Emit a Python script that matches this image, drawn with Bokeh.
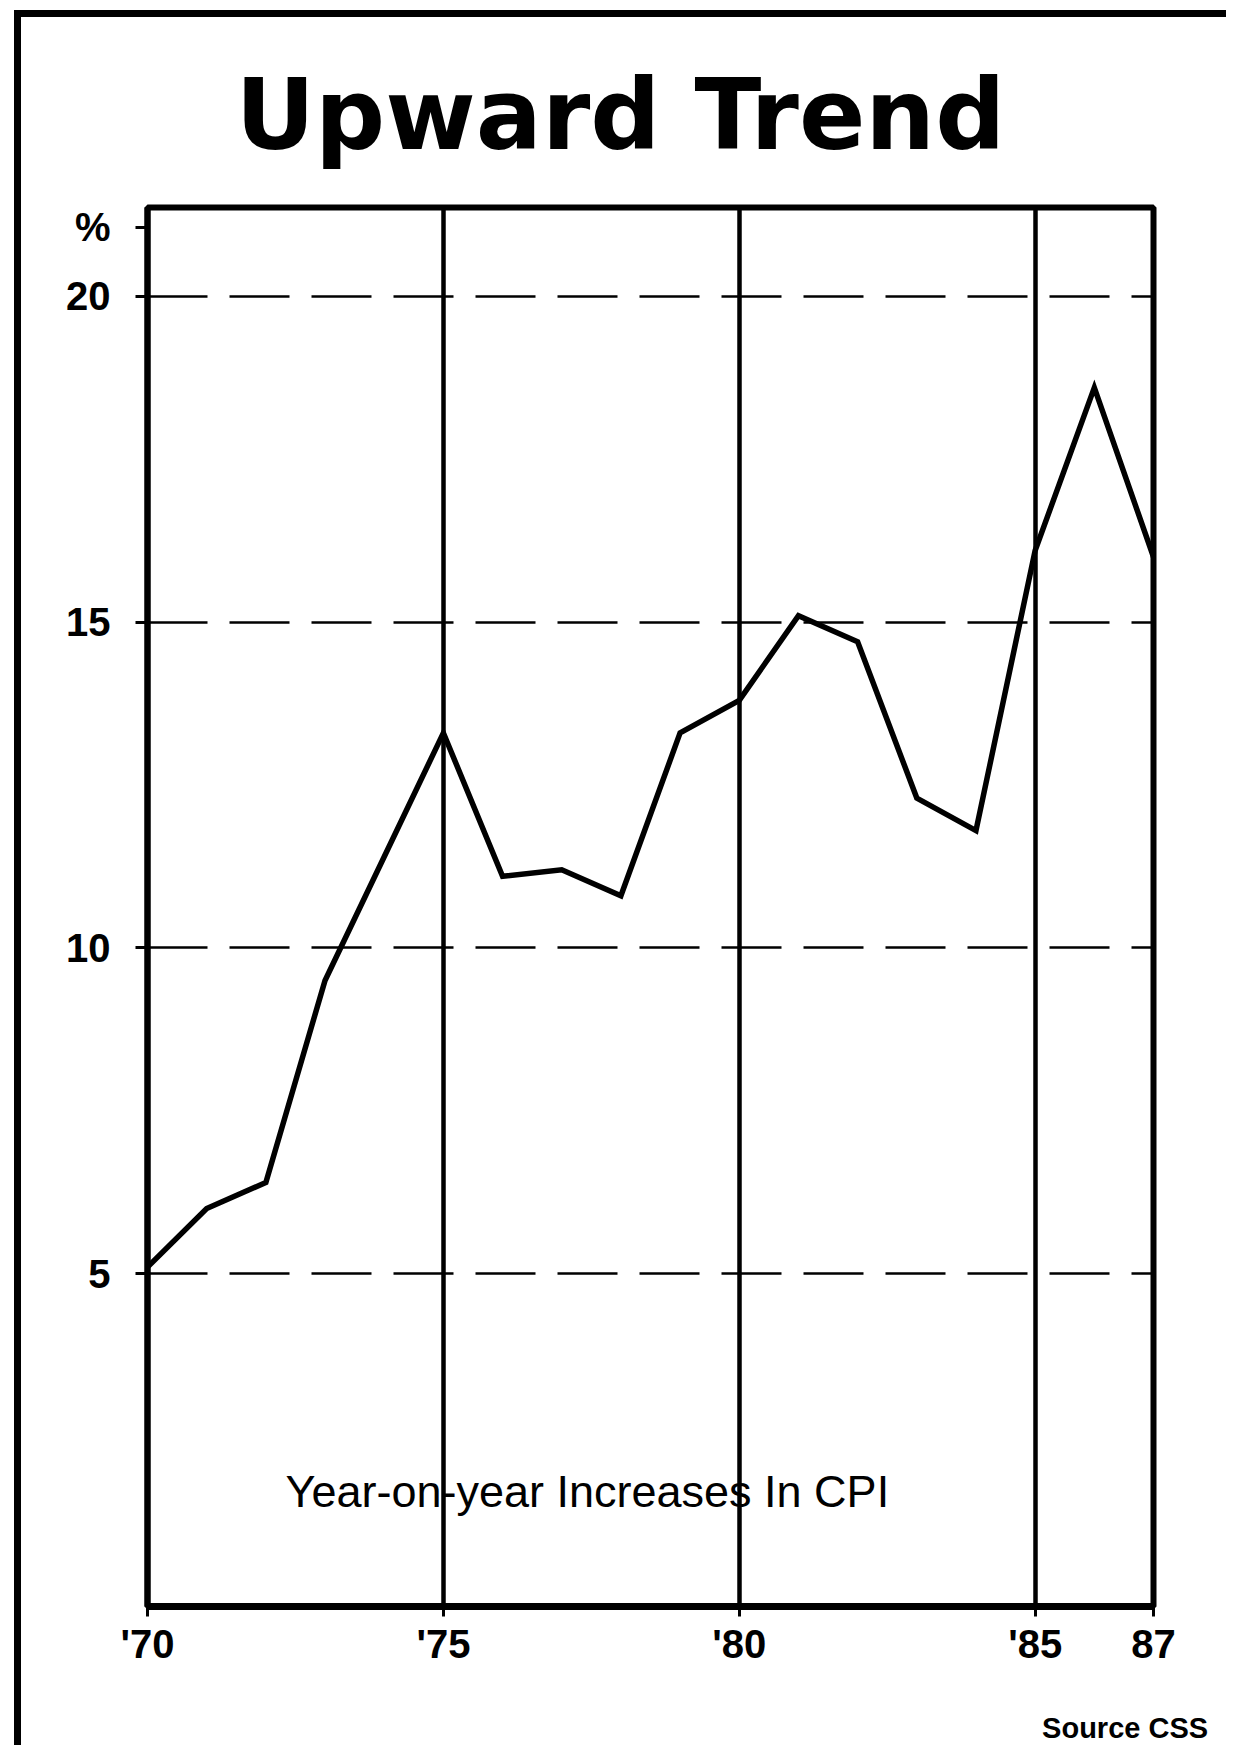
from bokeh.plotting import figure
from bokeh.models import Range1d, FixedTicker, Label, LinearAxis, ColumnDataSource
from bokeh.embed import file_html
from bokeh.resources import INLINE

# ---- data ----
years = [1970, 1971, 1972, 1973, 1974, 1975, 1976, 1977, 1978,
         1979, 1980, 1981, 1982, 1983, 1984, 1985, 1986, 1987]
cpi_increase = [5.1, 6.0, 6.4, 9.5, 11.4, 13.3, 11.1, 11.2, 10.8,
                13.3, 13.8, 15.1, 14.7, 12.3, 11.8, 16.1, 18.6, 16.0]

x_ticks = [1970, 1975, 1980, 1985, 1987]
x_tick_labels = ["'70", "'75", "'80", "'85", "87"]
y_ticks = [5, 10, 15, 20]
y_tick_labels = ["5", "10", "15", "20"]
vertical_rules = [1975, 1980, 1985]

title_text = "Upward Trend"
unit_text = "%"
note_text = "Year-on-year Increases In CPI"
source_text = "Source CSS"

# ---- geometry ----
OX, OY = 21, 17                 # figure origin on the page (after css border)
W, H = 1212, 1735
FL, FR, FT, FB = 126, 1132, 190, 1589   # frame edges in figure pixels
X0, X1 = 1970, 1987
Y0, Y1 = -0.109, 21.365

def yd(py):  # page px -> data y
    return Y0 + (FB - (py - OY)) / (FB - FT) * (Y1 - Y0)

def xd(px):  # page px -> data x
    return X0 + ((px - OX) - FL) / (FR - FL) * (X1 - X0)

FONT = "Liberation Sans"

p = figure(width=W, height=H, output_backend="svg", toolbar_location=None,
           x_range=Range1d(X0, X1), y_range=Range1d(Y0, Y1),
           min_border_left=FL, min_border_right=W - FR,
           min_border_top=FT, min_border_bottom=H - FB)
p.styles = {"margin-left": "14px", "margin-top": "10px",
            "border-left": "7px solid black", "border-top": "7px solid black"}

p.background_fill_color = "white"
p.border_fill_color = "white"
p.outline_line_color = "black"
p.outline_line_width = 6

# title (above the frame)
p.title.text = title_text
p.title.align = "left"
p.title.offset = 88
p.title.standoff = 72
p.title.text_font = "DejaVu Sans"
p.title.text_font_style = "bold"
p.title.text_font_size = "98px"
p.title.text_color = "black"

# x axis
xa = p.xaxis[0]
xa.ticker = FixedTicker(ticks=x_ticks)
xa.major_label_overrides = {t: l for t, l in zip(x_ticks, x_tick_labels)}
xa.axis_line_width = 7
xa.axis_line_color = "black"
xa.major_tick_out = 10
xa.major_tick_in = 0
xa.major_tick_line_width = 3
xa.minor_tick_line_color = None
xa.major_label_standoff = 5
xa.major_label_text_font = FONT
xa.major_label_text_font_style = "bold"
xa.major_label_text_font_size = "40px"
xa.major_label_text_color = "black"

# y axis (the "%" unit sits as the top label)
unit_y = round(yd(227), 2)
ya = p.yaxis[0]
ya.ticker = FixedTicker(ticks=y_ticks + [unit_y])
overrides = {t: l for t, l in zip(y_ticks, y_tick_labels)}
overrides[unit_y] = unit_text
ya.major_label_overrides = overrides
ya.axis_line_width = 6
ya.axis_line_color = "black"
ya.major_tick_out = 12
ya.major_tick_in = 0
ya.major_tick_line_width = 3
ya.minor_tick_line_color = None
ya.major_label_standoff = 25
ya.major_label_text_font = FONT
ya.major_label_text_font_style = "bold"
ya.major_label_text_font_size = "40px"
ya.major_label_text_color = "black"

# grids
p.ygrid.ticker = FixedTicker(ticks=y_ticks)
p.ygrid.grid_line_color = "black"
p.ygrid.grid_line_width = 2.5
p.ygrid.grid_line_dash = "60 22"
p.xgrid.ticker = FixedTicker(ticks=vertical_rules)
p.xgrid.grid_line_color = "black"
p.xgrid.grid_line_width = 4.5

# data line
src = ColumnDataSource(dict(year=years, cpi=cpi_increase))
p.line("year", "cpi", source=src, line_color="black", line_width=5.5,
       line_join="miter")

# note inside the frame
p.add_layout(Label(x=xd(285), y=yd(1491), text=note_text, text_align="left",
                   text_baseline="alphabetic", text_font=FONT,
                   text_font_size="45px", text_color="black"))

# source note: a second, bare axis under the year axis
src_x = round(xd(1124.5), 2)
sa = LinearAxis(ticker=FixedTicker(ticks=[src_x]),
                major_label_overrides={src_x: source_text},
                axis_line_color=None, major_tick_line_color=None,
                minor_tick_line_color=None, major_tick_out=0, major_tick_in=0,
                major_label_standoff=43, major_label_text_font=FONT,
                major_label_text_font_style="bold",
                major_label_text_font_size="29px", major_label_text_color="black")
p.add_layout(sa, "below")

open("out.html", "w").write(file_html(p, INLINE))
